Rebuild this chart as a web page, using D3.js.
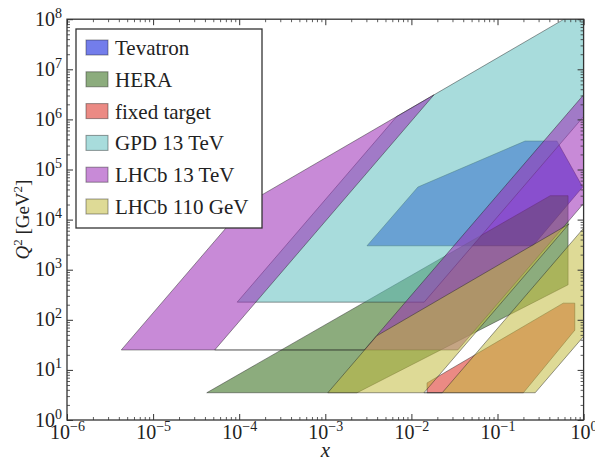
<!DOCTYPE html>
<html>
<head>
<meta charset="utf-8">
<script src="https://cdn.jsdelivr.net/npm/d3@7"></script>
<style>
  body { margin: 0; background: #fff; }
  text { font-family: "Liberation Serif", "DejaVu Serif", serif; fill: #222; }
</style>
</head>
<body>
<svg id="chart" width="595" height="462"></svg>
<script>
// kinematic regions, vertices as [x, Q2]
const seriesNames = ["Tevatron", "HERA", "fixed target", "GPD 13 TeV", "LHCb 13 TeV", "LHCb 110 GeV"];
const seriesColors = ["rgb(0,19,219)", "rgb(46,104,19)", "rgb(219,42,31)", "rgb(97,191,191)", "rgb(155,42,182)", "rgb(195,188,64)"];

const tevatron = [[3.05e-3, 3000], [0.0119, 4.47e4], [0.209, 3.7e5], [0.49, 3.7e5], [0.975, 4.47e4], [0.258, 3000]];
const hera = [[4.2e-5, 3.5], [0.41, 3e4], [0.66, 3e4], [0.66, 500], [2.34e-3, 3.5]];
const fixedTarget = [[0.0152, 3.5], [0.0152, 5.5], [0.58, 215], [0.79, 215], [0.79, 62], [0.2, 3.5]];
const gpd13 = [[9.47e-5, 225], [0.01406, 225], [1, 1.14e6], [1, 1.69e8], [6.74e-3, 1.14e6]];
// two rapidity bands joined along the bottom edge
const lhcb13 = [[4.27e-6, 25], [0.0346, 25], [1, 2.09e4], [1, 3.1e6], [2.84e-3, 25], [5.2e-5, 25], [0.0183, 3.1e6], [1.23e-4, 2.09e4]];
const lhcb110 = [[1.07e-3, 3.5], [0.274, 3.5], [1, 46.6], [1, 6730], [0.0228, 3.5], [0.014, 3.5], [0.678, 8200], [3.96e-3, 47.9]];

const regions = [tevatron, hera, fixedTarget, gpd13, lhcb13, lhcb110];

const xMajor = [1e-6, 1e-5, 1e-4, 1e-3, 1e-2, 1e-1, 1];
const xMajorExp = ["−6", "−5", "−4", "−3", "−2", "−1", "0"];
const yMajor = [1, 1e1, 1e2, 1e3, 1e4, 1e5, 1e6, 1e7, 1e8];
const yMajorExp = ["0", "1", "2", "3", "4", "5", "6", "7", "8"];

const svg = d3.select("#chart");
const plotLeft = 67, plotRight = 583.6, plotTop = 19.2, plotBottom = 420;

const x = d3.scaleLog().domain([1e-6, 1]).range([plotLeft, plotRight]);
const y = d3.scaleLog().domain([1, 1e8]).range([plotBottom, plotTop]);

function minors(lo, hi) {
  let out = [];
  for (let e = lo; e < hi; e++) {
    for (let k = 2; k <= 9; k++) out.push(k * Math.pow(10, e));
  }
  return out;
}

svg.append("clipPath").attr("id", "plotClip")
  .append("rect").attr("x", plotLeft).attr("y", plotTop)
  .attr("width", plotRight - plotLeft).attr("height", plotBottom - plotTop);

const line = d3.line().x(d => x(d[0])).y(d => y(d[1]));

svg.append("g").attr("clip-path", "url(#plotClip)")
  .selectAll("path.region")
  .data(regions)
  .enter()
  .append("path")
  .attr("class", "region")
  .attr("d", d => line(d) + "Z")
  .attr("fill", (d, i) => seriesColors[i])
  .attr("fill-opacity", 0.55)
  .attr("stroke", "#222")
  .attr("stroke-opacity", 0.45)
  .attr("stroke-width", 1)
  .attr("stroke-linejoin", "round");

// ticks on all four sides, pointing inwards
function tickAxis(axisFn, scale, values, size, transform) {
  const g = svg.append("g")
    .attr("transform", transform)
    .call(axisFn(scale).tickValues(values).tickSize(-size).tickSizeOuter(0).tickFormat(""));
  g.select(".domain").remove();
  g.selectAll(".tick line").attr("stroke", "#333").attr("stroke-width", size > 4 ? 1 : 0.8);
  return g;
}

const xMinor = minors(-6, 0);
const yMinor = minors(0, 8);

const xBottom = tickAxis(d3.axisBottom, x, xMajor, 6, `translate(0,${plotBottom})`);
tickAxis(d3.axisBottom, x, xMinor, 3, `translate(0,${plotBottom})`);
tickAxis(d3.axisTop, x, xMajor, 6, `translate(0,${plotTop})`);
tickAxis(d3.axisTop, x, xMinor, 3, `translate(0,${plotTop})`);
const yLeft = tickAxis(d3.axisLeft, y, yMajor, 6, `translate(${plotLeft},0)`);
tickAxis(d3.axisLeft, y, yMinor, 3, `translate(${plotLeft},0)`);
tickAxis(d3.axisRight, y, yMajor, 6, `translate(${plotRight},0)`);
tickAxis(d3.axisRight, y, yMinor, 3, `translate(${plotRight},0)`);

// tick labels as 10 with superscript exponent
xBottom.selectAll(".tick").each(function (d, i) {
  const t = d3.select(this).append("text")
    .attr("x", 0).attr("y", 19)
    .attr("text-anchor", "middle")
    .attr("font-size", 20)
    .attr("fill", "#222");
  t.append("tspan").text("10");
  t.append("tspan").attr("dy", -8).attr("font-size", 14).text(xMajorExp[i]);
});

yLeft.selectAll(".tick").each(function (d, i) {
  const t = d3.select(this).append("text")
    .attr("x", -5).attr("y", 6)
    .attr("text-anchor", "end")
    .attr("font-size", 20)
    .attr("fill", "#222");
  t.append("tspan").text("10");
  t.append("tspan").attr("dy", -8).attr("font-size", 14).text(yMajorExp[i]);
});

// frame
svg.append("rect")
  .attr("x", plotLeft).attr("y", plotTop)
  .attr("width", plotRight - plotLeft).attr("height", plotBottom - plotTop)
  .attr("fill", "none").attr("stroke", "#333").attr("stroke-width", 1.3);

// axis titles
svg.append("text")
  .attr("x", (plotLeft + plotRight) / 2).attr("y", 457)
  .attr("text-anchor", "middle")
  .attr("font-size", 21)
  .attr("font-style", "italic")
  .text("x");

const yTitle = svg.append("text")
  .attr("transform", `translate(29,${(plotTop + plotBottom) / 2}) rotate(-90)`)
  .attr("text-anchor", "middle")
  .attr("font-size", 19);
yTitle.append("tspan").attr("font-style", "italic").text("Q");
yTitle.append("tspan").attr("dy", -7).attr("font-size", 13).text("2");
yTitle.append("tspan").attr("dy", 7).text(" [GeV");
yTitle.append("tspan").attr("dy", -7).attr("font-size", 13).text("2");
yTitle.append("tspan").attr("dy", 7).text("]");

// legend
const legend = svg.append("g");
legend.append("rect")
  .attr("x", 76).attr("y", 29).attr("width", 186).attr("height", 199)
  .attr("fill", "#fff").attr("stroke", "#333").attr("stroke-width", 1.3);

const rows = legend.selectAll("g.row")
  .data(seriesNames)
  .enter()
  .append("g")
  .attr("class", "row")
  .attr("transform", (d, i) => `translate(0,${47.5 + i * 31.8})`);

rows.append("rect")
  .attr("x", 86).attr("y", -7.5).attr("width", 22).attr("height", 15)
  .attr("fill", (d, i) => seriesColors[i])
  .attr("fill-opacity", 0.55)
  .attr("stroke", "#222").attr("stroke-opacity", 0.45);

rows.append("text")
  .attr("x", 115).attr("y", 7.5)
  .attr("font-size", 21)
  .text(d => d);
</script>
</body>
</html>
